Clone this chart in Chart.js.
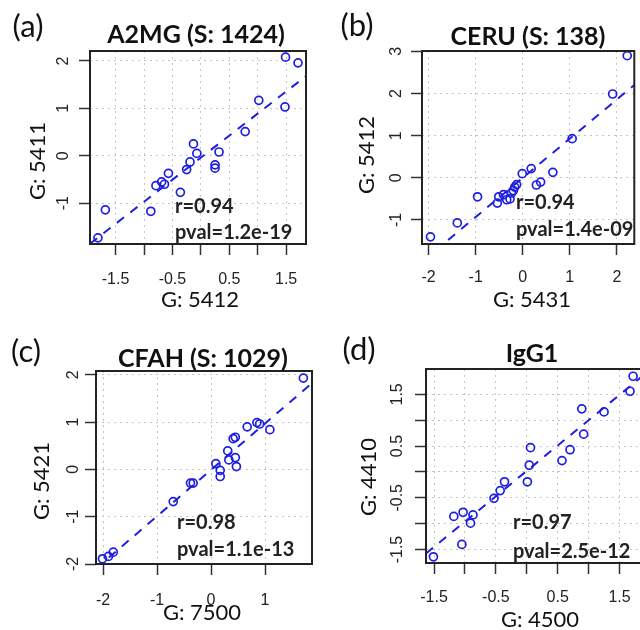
<!DOCTYPE html>
<html>
<head>
<meta charset="utf-8">
<script src="https://cdn.jsdelivr.net/npm/chart.js@4"></script>
<style>
  body { margin: 0; width: 640px; height: 630px; overflow: hidden; background: #fff; }
  canvas { position: absolute; }
</style>
</head>
<body>
<canvas id="chartA" width="320" height="315" style="left:0;top:0"></canvas>
<canvas id="chartB" width="320" height="315" style="left:320px;top:0"></canvas>
<canvas id="chartC" width="320" height="315" style="left:0;top:315px"></canvas>
<canvas id="chartD" width="330" height="315" style="left:320px;top:315px"></canvas>
<script>
// (a) A2MG
const aX = [-1.81, -1.68, -0.88, -0.79, -0.69, -0.64, -0.57, -0.36, -0.25, -0.19, -0.13, -0.07, 0.25, 0.25, 0.32, 0.78, 1.02, 1.48, 1.49, 1.71];
const aY = [-1.73, -1.14, -1.17, -0.63, -0.55, -0.60, -0.37, -0.77, -0.29, -0.13, 0.25, 0.05, -0.19, -0.26, 0.08, 0.51, 1.17, 1.03, 2.08, 1.96];
// (b) CERU
const bX = [-1.96, -1.39, -0.96, -0.54, -0.51, -0.41, -0.34, -0.27, -0.24, -0.20, -0.17, -0.13, -0.01, 0.18, 0.29, 0.38, 0.64, 1.05, 1.91, 2.22];
const bY = [-1.40, -1.07, -0.45, -0.60, -0.45, -0.40, -0.52, -0.50, -0.36, -0.30, -0.22, -0.16, 0.10, 0.22, -0.17, -0.10, 0.13, 0.93, 1.99, 2.90];
// (c) CFAH
const cX = [-2.01, -1.90, -1.81, -0.70, -0.38, -0.33, 0.09, 0.17, 0.17, 0.31, 0.33, 0.41, 0.45, 0.45, 0.47, 0.67, 0.85, 0.90, 1.09, 1.71];
const cY = [-1.89, -1.84, -1.75, -0.68, -0.29, -0.29, 0.12, -0.02, -0.15, 0.39, 0.20, 0.65, 0.68, 0.25, 0.06, 0.90, 0.99, 0.96, 0.84, 1.93];
// (d) IgG1
const dX = [-1.51, -1.18, -1.03, -1.05, -0.91, -0.87, -0.53, -0.43, -0.36, 0.01, 0.04, 0.06, 0.57, 0.70, 0.89, 0.92, 1.25, 1.67, 1.72];
const dY = [-1.64, -0.86, -0.78, -1.40, -0.99, -0.83, -0.51, -0.36, -0.19, -0.19, 0.13, 0.47, 0.22, 0.43, 1.22, 0.73, 1.16, 1.56, 1.85];

const tags = ['(a)', '(b)', '(c)', '(d)'];
const titles = ['A2MG (S: 1424)', 'CERU (S: 138)', 'CFAH (S: 1029)', 'IgG1'];
const xTitles = ['G: 5412', 'G: 5431', 'G: 7500', 'G: 4500'];
const yTitles = ['G: 5411', 'G: 5412', 'G: 5421', 'G: 4410'];
const rTexts = ['r=0.94', 'r=0.94', 'r=0.98', 'r=0.97'];
const pTexts = ['pval=1.2e-19', 'pval=1.4e-09', 'pval=1.1e-13', 'pval=2.5e-12'];

// dashed fit lines
const slopes = [0.93, 0.93, 0.98, 0.98];
const intercepts = [-0.04, 0.0, -0.01, 0.02];

// axis limits
const xLims = [[-1.95, 1.85], [-2.14, 2.37], [-2.13, 1.87], [-1.63, 1.88]];
const yLims = [[-1.86, 2.21], [-1.57, 3.01], [-2.0, 2.08], [-1.76, 1.99]];

// tick positions and labels
const halfTicks = [-1.5, -1, -0.5, 0, 0.5, 1, 1.5];
const halfLabels = ['-1.5', '', '-0.5', '', '0.5', '', '1.5'];
const xTicks = [halfTicks, [-2, -1, 0, 1, 2], [-2, -1, 0, 1], halfTicks];
const xLabels = [halfLabels, ['-2', '-1', '0', '1', '2'], ['-2', '-1', '0', '1'], halfLabels];
const yTicks = [[-1, 0, 1, 2], [-1, 0, 1, 2, 3], [-2, -1, 0, 1, 2], halfTicks];
const yLabels = [['-1', '0', '1', '2'], ['-1', '0', '1', '2', '3'], ['-2', '-1', '0', '1', '2'], halfLabels];

// layout of each panel, canvas pixels
const layouts = [
  { box: [90, 306, 51, 244], xPad: 15, yPad: 8.5, tag: [28, 27], title: [196, 35], yTitle: [38, 161], xTitle: [200, 300], stat: [175, 207, 233] },
  { box: [102, 318, 51, 244], xPad: 12.5, yPad: 7, tag: [37, 26], title: [208, 37], yTitle: [47, 155], xTitle: [212, 300], stat: [196, 203, 230] },
  { box: [96, 312, 56, 249], xPad: 15.5, yPad: 4.5, tag: [26, 37], title: [203, 44], yTitle: [42, 166], xTitle: [202, 298], stat: [177, 208, 235] },
  { box: [106, 323, 54, 248], xPad: 14, yPad: 4, tag: [39, 35], title: [212, 39], yTitle: [49, 162], xTitle: [220, 305], stat: [193, 208, 237] }
];

const blue = 'rgb(30, 30, 225)';
const sans = 'Lato, "Open Sans", sans-serif';
const tickFont = { family: '"Liberation Sans", Arial, sans-serif', size: 16 };

function makePanel(id, i, xs, ys) {
    const canvas = document.getElementById(id);
    const lay = layouts[i];
    const [left, right, top, bottom] = lay.box;
    const points = xs.map((x, k) => ({ x: x, y: ys[k] }));
    const fitLine = xLims[i].map(x => ({ x: x, y: slopes[i] * x + intercepts[i] }));

    // box, titles and r / pval text
    const decorations = {
        id: 'decorations',
        afterDraw(chart) {
            const ctx = chart.ctx;
            const area = chart.chartArea;
            ctx.save();
            ctx.strokeStyle = '#222';
            ctx.lineWidth = 2;
            ctx.strokeRect(area.left, area.top, area.right - area.left, area.bottom - area.top);

            ctx.fillStyle = '#111';
            ctx.textBaseline = 'middle';
            ctx.textAlign = 'center';
            ctx.font = '31px ' + sans;
            ctx.fillText(tags[i], lay.tag[0], lay.tag[1]);
            ctx.font = 'bold 25px ' + sans;
            ctx.fillText(titles[i], lay.title[0], lay.title[1]);
            ctx.font = '22px ' + sans;
            ctx.fillText(xTitles[i], lay.xTitle[0], lay.xTitle[1]);
            ctx.save();
            ctx.translate(lay.yTitle[0], lay.yTitle[1]);
            ctx.rotate(-Math.PI / 2);
            ctx.fillText(yTitles[i], 0, 0);
            ctx.restore();

            ctx.fillStyle = '#222';
            ctx.textAlign = 'left';
            ctx.font = 'bold 20px ' + sans;
            ctx.fillText(rTexts[i], lay.stat[0], lay.stat[1]);
            ctx.fillText(pTexts[i], lay.stat[0], lay.stat[2]);
            ctx.restore();
        }
    };

    const gridOpts = {
        color: '#c4c4c4',
        lineWidth: 1,
        tickLength: 11,
        tickColor: '#333',
        tickWidth: 1.5,
        tickBorderDash: []
    };

    new Chart(canvas, {
        type: 'scatter',
        data: {
            datasets: [
                {
                    data: points,
                    pointStyle: 'circle',
                    pointRadius: 4,
                    borderColor: blue,
                    borderWidth: 1.7,
                    backgroundColor: 'rgba(0,0,0,0)'
                },
                {
                    type: 'line',
                    data: fitLine,
                    borderColor: blue,
                    borderWidth: 2,
                    borderDash: [9, 8],
                    pointRadius: 0,
                    fill: false
                }
            ]
        },
        options: {
            responsive: false,
            animation: false,
            layout: { padding: { left: 0, top: top, right: canvas.width - right, bottom: 0 } },
            plugins: { legend: { display: false }, tooltip: { enabled: false } },
            scales: {
                x: {
                    type: 'linear',
                    min: xLims[i][0],
                    max: xLims[i][1],
                    afterBuildTicks: s => { s.ticks = xTicks[i].map(v => ({ value: v })); },
                    afterFit: s => { s.height = canvas.height - bottom; },
                    ticks: {
                        autoSkip: false,
                        maxRotation: 0,
                        padding: lay.xPad,
                        color: '#222',
                        font: tickFont,
                        callback: (v, k) => xLabels[i][k]
                    },
                    grid: gridOpts,
                    border: { display: false, dash: [2, 4] }
                },
                y: {
                    type: 'linear',
                    min: yLims[i][0],
                    max: yLims[i][1],
                    afterBuildTicks: s => { s.ticks = yTicks[i].map(v => ({ value: v })); },
                    afterFit: s => { s.width = left; },
                    ticks: {
                        autoSkip: false,
                        minRotation: 90,
                        maxRotation: 90,
                        crossAlign: 'center',
                        padding: lay.yPad,
                        color: '#222',
                        font: tickFont,
                        callback: (v, k) => yLabels[i][k]
                    },
                    grid: gridOpts,
                    border: { display: false, dash: [2, 4] }
                }
            }
        },
        plugins: [decorations]
    });
}

makePanel('chartA', 0, aX, aY);
makePanel('chartB', 1, bX, bY);
makePanel('chartC', 2, cX, cY);
makePanel('chartD', 3, dX, dY);
</script>
</body>
</html>
